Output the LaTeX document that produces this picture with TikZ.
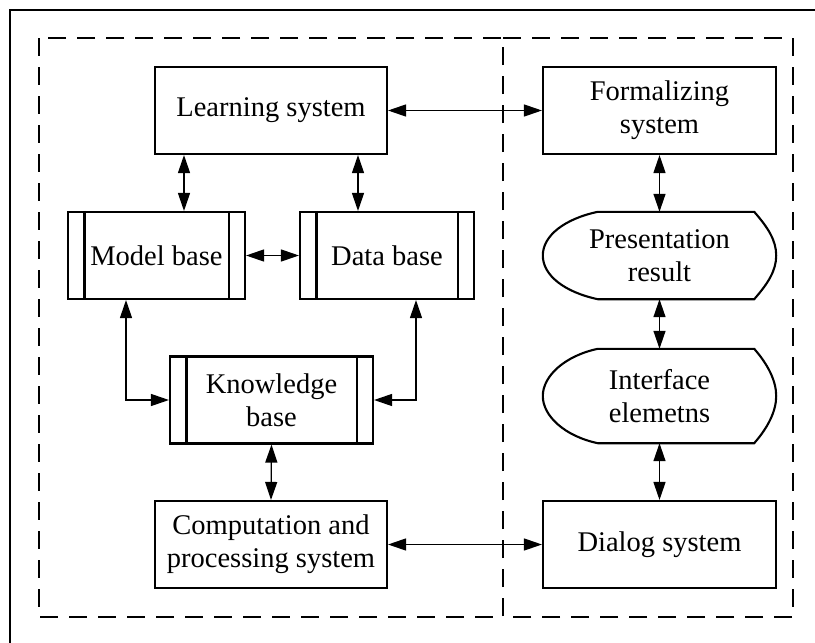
\documentclass[tikz,border=0pt]{standalone}
\usepackage{fontspec}
\setmainfont{Liberation Serif}
\usetikzlibrary{arrows.meta,calc}
\newcommand\dispshape[1]{%
  \draw[shp] ($(#1.north west)+(55,0)$) -- ($(#1.north east)+(-22,0)$)
    .. controls ($(#1.north east)+(-8,16)$) and ($(#1.east)+(0,-15)$) .. (#1.east)
    .. controls ($(#1.east)+(0,15)$) and ($(#1.south east)+(-8,-16)$) .. ($(#1.south east)+(-22,0)$)
    -- ($(#1.south west)+(55,0)$)
    .. controls ($(#1.south west)+(22,-7)$) and ($(#1.west)+(0,20)$) .. (#1.west)
    .. controls ($(#1.west)+(0,-20)$) and ($(#1.north west)+(22,7)$) .. cycle;}
\newcommand\sidebars[1]{%
  \draw[shp] ($(#1.north west)+(17.5,0)$) -- ($(#1.south west)+(17.5,0)$);
  \draw[shp] ($(#1.north east)+(-17.5,0)$) -- ($(#1.south east)+(-17.5,0)$);}
\begin{document}
\begin{tikzpicture}[x=1pt,y=-1pt,
  shp/.style={line width=2.1pt},
  txt/.style={inner sep=0pt, align=center, font=\fontsize{28.5}{33}\selectfont},
  sysbox/.style={txt, draw, line width=2.1pt, minimum width=#1, minimum height=87pt},
  disp/.style={txt, minimum width=233pt, minimum height=#1},
  region/.style={line width=2pt, dash pattern=on 18pt off 11pt},
  >={Triangle[length=18pt,width=12pt]},
  link/.style={<->, line width=1.3pt}]
\useasboundingbox (0,0) rectangle (815,643);
\draw[line width=2.1pt] (10,643) -- (10,10) -- (815,10);
\draw[region] (39,38) rectangle (503,617);
\draw[region] (503,38) -- (793,38) -- (793,617) -- (503,617);

\node[sysbox=232pt] (learn) at (271,110.5) {Learning system};
\node[sysbox=233pt] (formal) at (659.5,110.5) {Formalizing\\system};
\node[sysbox=177pt] (model) at (156.5,255.5) {Model base};
\node[sysbox=174pt] (data) at (387,255.5) {Data base};
\node[sysbox=203pt] (know) at (271.5,400) {Knowledge\\base};
\node[sysbox=232pt] (comp) at (271,544.5) {Computation and\\processing system};
\node[sysbox=233pt] (dialog) at (659.5,544.5) {Dialog system};
\node[disp=87pt] (pres) at (659.5,255.5) {Presentation\\result};
\node[disp=94pt] (iface) at (659.5,396) {Interface\\elemetns};
\sidebars{model}
\sidebars{data}
\sidebars{know}
\dispshape{pres}
\dispshape{iface}

\draw[link] (learn.east) -- (formal.west);
\draw[link] ($(learn.south)+(-87,0)$) -- ($(model.north)+(27.5,0)$);
\draw[link] ($(learn.south)+(87,0)$) -- ($(data.north)+(-29,0)$);
\draw[link] (model.east) -- (data.west);
\draw[link] ($(model.south)+(-30.5,0)$) |- (know.west);
\draw[link] ($(data.south)+(29,0)$) |- (know.east);
\draw[link] (know.south) -- (comp.north);
\draw[link] (comp.east) -- (dialog.west);
\draw[link] (formal.south) -- (pres.north);
\draw[link] (pres.south) -- (iface.north);
\draw[link] (iface.south) -- (dialog.north);
\end{tikzpicture}
\end{document}
